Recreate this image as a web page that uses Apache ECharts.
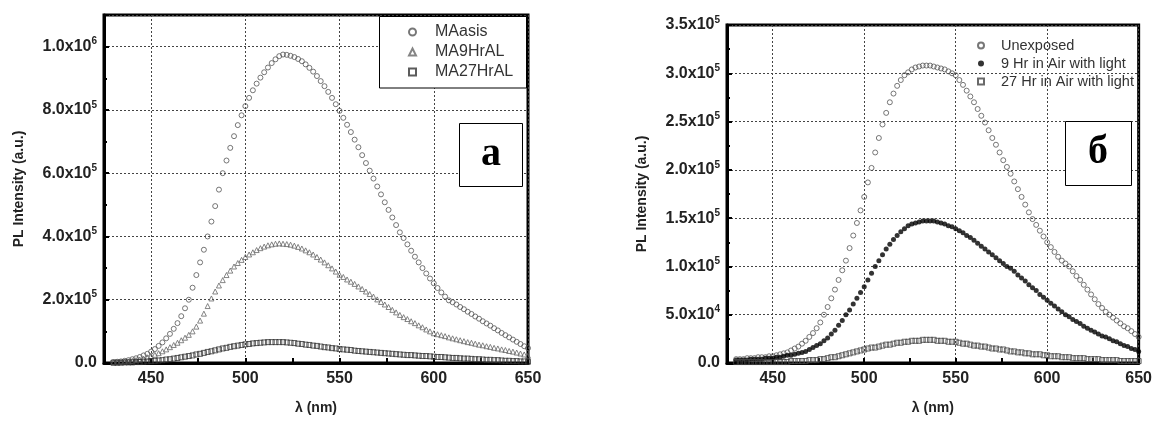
<!DOCTYPE html>
<html>
<head>
<meta charset="utf-8">
<title>PL spectra</title>
<script src="https://cdn.jsdelivr.net/npm/echarts@6/dist/echarts.min.js"></script>
<style>
  html, body { margin: 0; padding: 0; background: #fff; }
  #chart { width: 1155px; height: 421px; }
</style>
</head>
<body>
<div id="chart"></div>
<script>
  // wavelength grid, nm
  var wavelengths = [
    430, 432, 434, 436, 438, 440, 442, 444, 446, 448,
    450, 452, 454, 456, 458, 460, 462, 464, 466, 468,
    470, 472, 474, 476, 478, 480, 482, 484, 486, 488,
    490, 492, 494, 496, 498, 500, 502, 504, 506, 508,
    510, 512, 514, 516, 518, 520, 522, 524, 526, 528,
    530, 532, 534, 536, 538, 540, 542, 544, 546, 548,
    550, 552, 554, 556, 558, 560, 562, 564, 566, 568,
    570, 572, 574, 576, 578, 580, 582, 584, 586, 588,
    590, 592, 594, 596, 598, 600, 602, 604, 606, 608,
    610, 612, 614, 616, 618, 620, 622, 624, 626, 628,
    630, 632, 634, 636, 638, 640, 642, 644, 646, 648,
    650
  ];

  // panel a, intensity in thousands
  var maAsis = [
    3, 4, 5, 7, 9, 12, 15, 19, 24, 29,
    36, 44, 54, 65, 78, 92, 108, 126, 148, 173,
    200, 238, 278, 318, 358, 400, 447, 496, 548, 600,
    640, 680, 717, 752, 783, 812, 838, 862, 883, 902,
    919, 934, 948, 960, 970, 975, 974, 971, 967, 961,
    954, 944, 933, 921, 907, 891, 875, 857, 838, 818,
    797, 775, 753, 730, 706, 682, 657, 632, 608, 583,
    558, 533, 508, 484, 460, 436, 413, 395, 375, 355,
    336, 318, 300, 283, 267, 252, 237, 223, 210, 198,
    192, 185, 177, 170, 162, 155, 147, 140, 132, 125,
    118, 110, 103, 95, 88, 81, 74, 67, 60, 53,
    47
  ];
  var ma9HrAL = [
    2, 2, 3, 4, 5, 7, 9, 11, 14, 18,
    22, 26, 31, 37, 43, 50, 57, 64, 72, 80,
    89, 100, 115, 134, 156, 180, 204, 226, 245, 262,
    278, 292, 305, 316, 326, 335, 343, 350, 357, 363,
    368, 372, 375, 377, 378, 377, 376, 374, 371, 367,
    362, 356, 350, 343, 335, 327, 318, 309, 299, 289,
    279, 272, 264, 257, 250, 242, 234, 226, 218, 210,
    201, 193, 185, 177, 168, 160, 152, 145, 139, 132,
    126, 119, 113, 106, 100, 94, 91, 88, 85, 81,
    78, 75, 72, 69, 66, 64, 61, 58, 56, 53,
    51, 48, 46, 43, 41, 38, 36, 33, 30, 27,
    23
  ];
  var ma27HrAL = [
    1, 1, 1, 2, 2, 2, 3, 3, 4, 5,
    6, 7, 8, 9, 11, 12, 14, 16, 18, 20,
    22, 24, 27, 29, 32, 35, 37, 40, 43, 46,
    48, 51, 53, 55, 57, 59, 60, 62, 63, 64,
    65, 66, 66, 66, 66, 66, 65, 64, 63, 61,
    60, 58, 57, 55, 54, 52, 50, 49, 47, 46,
    44, 43, 42, 41, 39, 38, 37, 36, 35, 34,
    33, 32, 31, 30, 29, 28, 27, 26, 25, 25,
    24, 23, 22, 22, 21, 20, 19, 19, 18, 17,
    16, 16, 15, 14, 14, 13, 12, 12, 11, 10,
    10, 9, 9, 8, 7, 7, 6, 6, 5, 5,
    4
  ];

  // panel б, intensity in thousands
  var unexposed = [
    4, 4, 4, 5, 5, 5, 6, 6, 6, 7,
    7, 8, 9, 10, 11, 13, 15, 17, 20, 23,
    27, 31, 36, 42, 50, 58, 67, 76, 86, 96,
    106, 119, 132, 145, 158, 172, 187, 202, 218, 233,
    247, 259, 270, 279, 287, 293, 298, 301, 304, 306,
    307, 308, 308, 308, 307, 306, 305, 304, 302, 300,
    298, 293, 288, 282, 276, 270, 263, 256, 249, 241,
    233, 226, 218, 210, 203, 196, 188, 180, 172, 164,
    156, 149, 143, 137, 131, 125, 120, 115, 110, 106,
    103, 100, 95, 90, 86, 81, 76, 71, 66, 61,
    57, 53, 50, 47, 44, 41, 38, 36, 33, 30,
    27
  ];
  var air9Hr = [
    3, 3, 3, 3, 4, 4, 4, 4, 5, 5,
    5, 6, 6, 7, 8, 8, 9, 10, 11, 12,
    14, 16, 18, 20, 23, 26, 30, 34, 39, 44,
    50, 55, 61, 67, 73, 79, 86, 93, 100, 106,
    112, 118, 123, 128, 132, 136, 139, 142, 144, 145,
    146, 147, 147, 147, 147, 146, 145, 144, 142, 141,
    139, 137, 135, 132, 130, 127, 124, 121, 118, 115,
    112, 109, 106, 103, 100, 98, 95, 91, 88, 85,
    81, 78, 75, 71, 68, 65, 62, 59, 56, 53,
    50, 48, 45, 43, 41, 38, 36, 34, 32, 30,
    28, 27, 25, 23, 22, 20, 18, 17, 15, 14,
    12
  ];
  var air27Hr = [
    1, 1, 1, 1, 1, 1, 1, 1, 1, 1,
    1, 1, 1, 1, 1, 2, 2, 2, 2, 2,
    3, 3, 3, 4, 4, 5, 6, 6, 7, 8,
    9, 10, 11, 12, 13, 14, 15, 16, 16, 17,
    18, 19, 19, 20, 21, 21, 22, 22, 23, 23,
    23, 24, 24, 24, 24, 23, 23, 23, 22, 22,
    22, 21, 20, 20, 19, 18, 18, 17, 17, 16,
    15, 15, 14, 14, 13, 12, 12, 11, 11, 10,
    10, 9, 9, 9, 8, 8, 7, 7, 7, 6,
    6, 6, 5, 5, 5, 5, 4, 4, 4, 4,
    3, 3, 3, 3, 3, 2, 2, 2, 2, 2,
    2
  ];

  var namesA = ['MAasis', 'MA9HrAL', 'MA27HrAL'];
  var namesB = ['Unexposed', '9 Hr in Air with light', '27 Hr in Air with light'];
  var xTicks = [450, 500, 550, 600, 650];
  var yTicksA = [0, 200000, 400000, 600000, 800000, 1000000];
  var yTicksB = [0, 50000, 100000, 150000, 200000, 250000, 300000, 350000];

  var FONT = "'Liberation Sans', Arial, sans-serif";

  function toPoints(vals) {
    return wavelengths.map(function (w, i) { return [w, vals[i] * 1000]; });
  }

  // 1.0x10^6 style labels
  function sciLabel(v, ticks) {
    if (ticks.indexOf(v) < 0) return '';
    if (v === 0) return '0.0';
    var e = Math.floor(Math.log10(v) + 1e-9);
    var m = (v / Math.pow(10, e)).toFixed(1);
    return '{m|' + m + 'x10}{e|' + e + '}';
  }

  function xAxisCfg(gridIndex) {
    return {
      type: 'value', gridIndex: gridIndex,
      min: 425, max: 650, interval: 25,
      name: 'λ (nm)', nameLocation: 'middle', nameGap: 38,
      nameTextStyle: { fontFamily: FONT, fontWeight: 'bold', fontSize: 14, color: '#222' },
      axisLine: { lineStyle: { color: '#000', width: 3 } },
      axisTick: { inside: true, length: 5, lineStyle: { color: '#000', width: 2 } },
      axisLabel: {
        margin: 8, fontFamily: FONT, fontWeight: 'bold', fontSize: 16, color: '#222',
        formatter: function (v) { return xTicks.indexOf(v) >= 0 ? String(v) : ''; }
      },
      splitLine: { show: true, lineStyle: { color: ['rgba(0,0,0,0)', '#444'], width: 1, type: [2, 2] } }
    };
  }

  function yAxisCfg(gridIndex, max, interval, ticks) {
    return {
      type: 'value', gridIndex: gridIndex,
      min: 0, max: max, interval: interval,
      name: 'PL Intensity (a.u.)', nameLocation: 'middle', nameGap: 78,
      nameTextStyle: { fontFamily: FONT, fontWeight: 'bold', fontSize: 14, color: '#222' },
      axisLine: { lineStyle: { color: '#000', width: 3 } },
      axisTick: { inside: true, length: 5, lineStyle: { color: '#000', width: 2 } },
      minorTick: { show: true, splitNumber: 2, length: 3, lineStyle: { color: '#000', width: 2 } },
      axisLabel: {
        margin: 7, fontFamily: FONT, fontWeight: 'bold', fontSize: 16, color: '#222',
        formatter: function (v) { return sciLabel(v, ticks); },
        rich: {
          m: { fontFamily: FONT, fontWeight: 'bold', fontSize: 16, color: '#222', lineHeight: 20 },
          e: { fontFamily: FONT, fontWeight: 'bold', fontSize: 10, color: '#222', verticalAlign: 'top' }
        }
      },
      splitLine: { show: true, lineStyle: { color: '#444', width: 1, type: [2, 2] } }
    };
  }

  function hollow(name, symbol, size, xi, vals, stroke) {
    return {
      name: name, type: 'scatter', xAxisIndex: xi, yAxisIndex: xi,
      symbol: symbol, symbolSize: size,
      itemStyle: { color: 'rgba(255,255,255,0)', borderColor: stroke, borderWidth: 1 },
      data: toPoints(vals)
    };
  }

  // square icons, text pushed right by an empty rich token
  function legendCfg(left, top, names, iconSize, fontSize, gap, pad) {
    return {
      left: left, top: top, orient: 'vertical', padding: 0, itemGap: gap,
      itemWidth: iconSize, itemHeight: iconSize, selectedMode: false, z: 6,
      formatter: '{g| }{name}',
      textStyle: {
        fontFamily: FONT, fontSize: fontSize, lineHeight: fontSize, color: '#333',
        rich: { g: { width: pad, fontSize: fontSize } }
      },
      data: names
    };
  }

  var option = {
    animation: false,
    backgroundColor: '#fff',
    grid: [
      { left: 104, top: 15, width: 424, height: 348, show: true, borderColor: '#000', borderWidth: 3 },
      { left: 727, top: 25, width: 413, height: 338, show: true, borderColor: '#000', borderWidth: 3 }
    ],
    xAxis: [xAxisCfg(0), xAxisCfg(1)],
    yAxis: [
      yAxisCfg(0, 1100000, 200000, yTicksA),
      yAxisCfg(1, 350000, 50000, yTicksB)
    ],
    legend: [
      legendCfg(408, 24, namesA, 7, 16, 4, 14),
      legendCfg(977, 38, namesB, 6, 14.5, 3, 12)
    ],
    graphic: [
      // legend frame of panel a
      { type: 'rect', z: 3, shape: { x: 379.5, y: 16.5, width: 147, height: 71.5 },
        style: { fill: '#fff', stroke: '#000', lineWidth: 1 } },
      // panel letters
      { type: 'rect', z: 3, shape: { x: 459.5, y: 123.5, width: 63, height: 63 },
        style: { fill: '#fff', stroke: '#000', lineWidth: 1 } },
      { type: 'text', z: 4, x: 491, y: 155,
        style: { text: 'а', fontFamily: "'Liberation Serif', 'Times New Roman', serif", fontWeight: 'bold',
          fontSize: 40, fill: '#000', align: 'center', verticalAlign: 'middle' } },
      { type: 'rect', z: 3, shape: { x: 1065.5, y: 121.5, width: 66, height: 64 },
        style: { fill: '#fff', stroke: '#000', lineWidth: 1 } },
      { type: 'text', z: 4, x: 1098, y: 153,
        style: { text: 'б', fontFamily: "'Liberation Serif', 'Times New Roman', serif", fontWeight: 'bold',
          fontSize: 40, fill: '#000', align: 'center', verticalAlign: 'middle' } }
    ],
    series: [
      hollow(namesA[0], 'circle', 5, 0, maAsis, '#555'),
      hollow(namesA[1], 'triangle', 5, 0, ma9HrAL, '#666'),
      hollow(namesA[2], 'rect', 5, 0, ma27HrAL, '#333'),
      hollow(namesB[0], 'circle', 5, 1, unexposed, '#555'),
      {
        name: namesB[1], type: 'scatter', xAxisIndex: 1, yAxisIndex: 1,
        symbol: 'circle', symbolSize: 5,
        itemStyle: { color: '#000' },
        data: toPoints(air9Hr)
      },
      hollow(namesB[2], 'rect', 5, 1, air27Hr, '#444')
    ]
  };

  var myChart = echarts.init(document.getElementById('chart'));
  myChart.setOption(option);
</script>
</body>
</html>
